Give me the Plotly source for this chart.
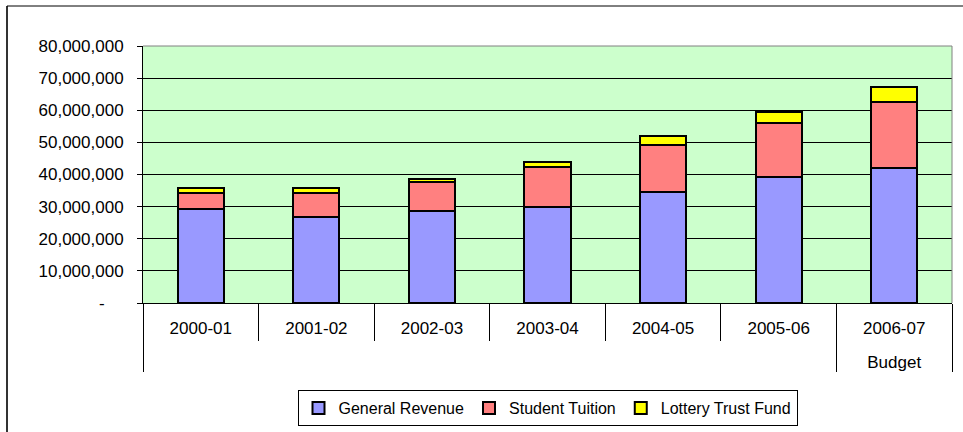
import plotly.graph_objects as go

years = ["2000-01", "2001-02", "2002-03", "2003-04", "2004-05", "2005-06", "2006-07"]
year_notes = [" ", " ", " ", " ", " ", " ", "\u00a0<br>Budget"]
general_revenue = [29200000, 26900000, 28700000, 30000000, 34500000, 39100000, 42100000]
student_tuition = [5100000, 7300000, 8900000, 12400000, 14800000, 17000000, 20500000]
lottery_trust_fund = [1600000, 1500000, 1000000, 1600000, 2700000, 3400000, 4700000]
y_tick_values = [0, 10000000, 20000000, 30000000, 40000000, 50000000, 60000000, 70000000, 80000000]
y_tick_labels = ["-\u00a0\u00a0\u00a0\u00a0", "10,000,000", "20,000,000", "30,000,000", "40,000,000",
                 "50,000,000", "60,000,000", "70,000,000", "80,000,000"]

FONT = "Liberation Sans, Arial, sans-serif"
x = [year_notes, years]

fig = go.Figure()
for name, vals, col in [("General Revenue", general_revenue, "#9999FF"),
                        ("Student Tuition", student_tuition, "#FF8080"),
                        ("Lottery Trust Fund", lottery_trust_fund, "#FFFF00")]:
    fig.add_trace(go.Bar(x=x, y=vals, name=name,
                         marker=dict(color=col, line=dict(color="black", width=2))))

L, R, T, B = 143, 11, 46, 129
W, H = 963, 432
pw, ph = W - L - R, H - T - B

fig.update_layout(
    barmode="stack",
    bargap=0.6,
    width=W, height=H,
    margin=dict(l=L, r=R, t=T, b=B, autoexpand=False),
    paper_bgcolor="white",
    plot_bgcolor="#CCFFCC",
    font=dict(family=FONT, size=17, color="black"),
    showlegend=True,
    legend=dict(orientation="h", x=0.5, xanchor="center", y=-(390 - 303) / ph, yanchor="top",
                bordercolor="black", borderwidth=1, bgcolor="white", traceorder="normal",
                font=dict(size=16), itemwidth=30, tracegroupgap=0),
    xaxis=dict(type="multicategory", showline=True, linecolor="black", linewidth=1,
               ticks="outside", tickson="boundaries", ticklen=37, tickcolor="black",
               showdividers=True, dividercolor="black", dividerwidth=1,
               showgrid=False, mirror=False, tickfont=dict(size=17),
               ticklabelstandoff=10),
    yaxis=dict(range=[0, 80000000], tickvals=y_tick_values, ticktext=y_tick_labels,
               showgrid=True, gridcolor="black", gridwidth=1,
               showline=True, linecolor="black", linewidth=1,
               ticks="outside", ticklen=5, tickcolor="black",
               zeroline=False, ticklabelstandoff=10),
)
# plot-area border (right and top)
fig.add_shape(type="line", xref="x domain", yref="y domain", x0=1, x1=1, y0=0, y1=1,
              line=dict(color="#808080", width=1))
fig.add_shape(type="line", xref="x domain", yref="y domain", x0=0, x1=1, y0=1, y1=1,
              line=dict(color="#808080", width=1))
# outer chart border
bx = (7 - L) / pw
by = 1 + (T - 6) / ph
fig.add_shape(type="line", xref="paper", yref="paper",
              x0=bx, x1=bx, y0=-B / ph - 0.05, y1=by,
              line=dict(color="#333333", width=2))
fig.add_shape(type="line", xref="paper", yref="paper",
              x0=bx, x1=1 + 20 / pw, y0=by, y1=by,
              line=dict(color="black", width=1))

fig.write_html("out.html", config={"displayModeBar": False},
               post_script="document.body.style.margin='0';")
